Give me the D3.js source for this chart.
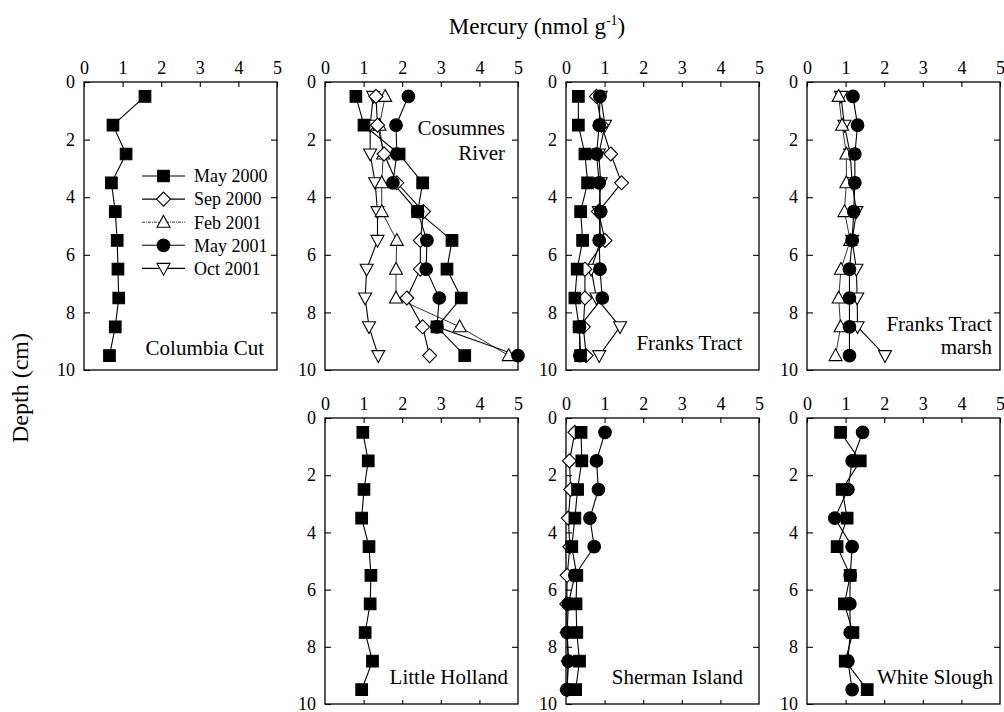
<!DOCTYPE html>
<html><head><meta charset="utf-8">
<script src="https://cdn.jsdelivr.net/npm/d3@7"></script>
<style>
body{margin:0;background:#fff;}
svg{display:block;}
svg text{font-family:"Liberation Serif","Times New Roman",serif !important;}
</style></head>
<body>
<svg id="chart" width="1004" height="712"></svg>
<script>
// ---------- data ----------
const depths = [0.5,1.5,2.5,3.5,4.5,5.5,6.5,7.5,8.5,9.5];
const seriesNames = ["May 2000","Sep 2000","Feb 2001","May 2001","Oct 2001"];
const xTicks = [0,1,2,3,4,5];
const yTicks = [0,2,4,6,8,10];

// Columbia Cut
const columbiaMay2000 = [1.58,0.75,1.09,0.71,0.81,0.86,0.88,0.90,0.81,0.66];
// Cosumnes River
const cosumnesMay2000 = [0.80,1.01,1.92,2.53,2.40,3.29,3.16,3.53,2.90,3.62];
const cosumnesSep2000 = [1.32,1.36,1.53,1.86,2.55,2.47,2.47,2.12,2.53,2.71];
const cosumnesFeb2001 = [1.56,1.41,1.51,1.47,1.47,1.86,1.84,1.84,3.49,4.76];
const cosumnesMay2001 = [2.16,1.84,1.86,1.76,2.40,2.64,2.62,2.96,2.90,5.00];
const cosumnesOct2001 = [1.25,1.17,1.17,1.30,1.36,1.36,1.08,1.04,1.14,1.38];
// Franks Tract
const franksMay2000 = [0.32,0.32,0.49,0.56,0.38,0.43,0.29,0.23,0.34,0.38];
const franksSep2000 = [0.79,0.92,1.16,1.44,0.84,1.01,0.49,0.49,0.45,0.52];
const franksMay2001 = [0.88,0.86,0.79,0.86,0.90,0.86,0.88,0.94,0.35,0.36];
const franksOct2001 = [0.90,1.01,0.85,0.90,0.85,0.90,0.65,0.79,1.40,0.86];
// Franks Tract marsh
const marshFeb2001 = [0.82,0.91,1.02,1.02,0.97,1.12,0.88,0.82,0.87,0.74];
const marshMay2001 = [1.19,1.31,1.24,1.24,1.21,1.17,1.10,1.10,1.10,1.10];
const marshOct2001 = [0.88,0.97,1.12,1.17,1.28,1.17,1.28,1.30,1.31,2.02];
// Little Holland
const hollandMay2000 = [0.98,1.12,1.01,0.95,1.14,1.19,1.17,1.04,1.23,0.95];
// Sherman Island
const shermanMay2000 = [0.39,0.41,0.30,0.23,0.15,0.28,0.26,0.28,0.35,0.25];
const shermanSep2000 = [0.23,0.09,0.12,0.06,0.10,0.03,0.02,0.03,0.06,0.03];
const shermanMay2001 = [1.01,0.79,0.84,0.62,0.73,0.23,0.06,0.03,0.06,0.02];
// White Slough
const whiteMay2000 = [0.87,1.38,0.91,1.04,0.78,1.12,0.97,1.19,0.99,1.56];
const whiteMay2001 = [1.44,1.17,1.06,0.72,1.17,1.12,1.11,1.12,1.06,1.17];

// ---------- layout ----------
const panelW = 193;
const row1 = {top:82, bottom:370};
const row2 = {top:418, bottom:704};
const colX = [84, 325, 566, 807];
const FONT = '"Liberation Serif","Times New Roman",serif';

const sites = [
  {name:["Columbia Cut"], col:0, row:row1, legend:true,
   series:{"May 2000":columbiaMay2000}, lab:{dx:13, y:[355]}},
  {name:["Cosumnes","River"], col:1, row:row1,
   series:{"Oct 2001":cosumnesOct2001,"Feb 2001":cosumnesFeb2001,"Sep 2000":cosumnesSep2000,"May 2000":cosumnesMay2000,"May 2001":cosumnesMay2001},
   lab:{dx:13, y:[135,160]}},
  {name:["Franks Tract"], col:2, row:row1,
   series:{"Oct 2001":franksOct2001,"Sep 2000":franksSep2000,"May 2000":franksMay2000,"May 2001":franksMay2001},
   lab:{dx:17, y:[350]}},
  {name:["Franks Tract","marsh"], col:3, row:row1,
   series:{"Oct 2001":marshOct2001,"Feb 2001":marshFeb2001,"May 2001":marshMay2001},
   lab:{dx:8, y:[331,354]}},
  {name:["Little Holland"], col:1, row:row2, bottomTicks:true,
   series:{"May 2000":hollandMay2000}, lab:{dx:10, y:[684]}},
  {name:["Sherman Island"], col:2, row:row2, bottomTicks:true,
   series:{"Sep 2000":shermanSep2000,"May 2000":shermanMay2000,"May 2001":shermanMay2001}, lab:{dx:16, y:[684]}},
  {name:["White Slough"], col:3, row:row2, bottomTicks:true,
   series:{"May 2000":whiteMay2000,"May 2001":whiteMay2001}, lab:{dx:7, y:[684]}}
];

// ---------- marker shapes ----------
function markerPath(name){
  switch(name){
    case "May 2000": return "M-5.8,-5.8H5.8V5.8H-5.8Z";
    case "Sep 2000": return "M0,-7L7,0L0,7L-7,0Z";
    case "Feb 2001": return "M0,-6.8L6.5,5L-6.5,5Z";
    case "May 2001": return d3.symbol(d3.symbolCircle, Math.PI*6.3*6.3)();
    case "Oct 2001": return "M0,6.8L6.5,-5L-6.5,-5Z";
  }
}
const filled = {"May 2000":true,"Sep 2000":false,"Feb 2001":false,"May 2001":true,"Oct 2001":false};

const svg = d3.select("#chart");

sites.forEach(site => {
  const x0 = colX[site.col];
  const x = d3.scaleLinear().domain([0,5]).range([x0, x0+panelW]);
  const y = d3.scaleLinear().domain([0,10]).range([site.row.top, site.row.bottom]);
  const g = svg.append("g");

  const ax = g.append("g").attr("transform",`translate(0,${site.row.top})`)
    .call(d3.axisTop(x).tickValues(xTicks).tickSizeInner(-5).tickSizeOuter(0).tickPadding(8).tickFormat(d3.format("d")));
  const ay = g.append("g").attr("transform",`translate(${x0},0)`)
    .call(d3.axisLeft(y).tickValues(yTicks).tickSizeInner(-6).tickSizeOuter(0).tickPadding(9).tickFormat(d3.format("d")));
  const ar = g.append("g").attr("transform",`translate(${x0+panelW},0)`)
    .call(d3.axisRight(y).tickValues([2,4,6,8]).tickSizeInner(-6).tickSizeOuter(0).tickFormat(""));
  const axes = [ax,ay,ar];
  if (site.bottomTicks){
    axes.push(g.append("g").attr("transform",`translate(0,${site.row.bottom})`)
      .call(d3.axisBottom(x).tickValues([1,2,3,4]).tickSizeInner(-4).tickSizeOuter(0).tickFormat("")));
  }
  axes.forEach(a=>{
    a.attr("font-family", FONT).attr("font-size", 18);
    a.select(".domain").remove();
    a.selectAll("text").style("font-family", FONT).style("font-size","18px").attr("fill","#000");
    a.selectAll("line").attr("stroke","#000").attr("stroke-width",1.1);
  });

  g.append("rect").attr("x",x0).attr("y",site.row.top).attr("width",panelW)
    .attr("height",site.row.bottom-site.row.top).attr("fill","none").attr("stroke","#000").attr("stroke-width",1.3);

  const line = d3.line().x(d=>x(d[0])).y(d=>y(d[1]));
  const entries = Object.entries(site.series);
  entries.forEach(([nm, vals])=>{
    const pts = vals.map((v,i)=>[v, depths[i]]);
    g.append("path").attr("d",line(pts)).attr("fill","none").attr("stroke","#000")
      .attr("stroke-width", nm==="Feb 2001"?0.8:1.1);
  });
  entries.forEach(([nm, vals])=>{
    g.selectAll(null).data(vals.map((v,i)=>[v,depths[i]])).enter().append("path")
      .attr("d", markerPath(nm))
      .attr("transform", d=>`translate(${x(d[0])},${y(d[1])})`)
      .attr("fill", filled[nm] ? "#000" : "#fff")
      .attr("stroke","#000").attr("stroke-width",1.1);
  });

  site.name.forEach((t,i)=>{
    g.append("text").attr("x", x0+panelW-site.lab.dx).attr("y", site.lab.y[i])
      .attr("text-anchor","end").style("font-family",FONT).style("font-size","21px").text(t);
  });

  if (site.legend){
    const lg = g.append("g");
    seriesNames.forEach((nm,i)=>{
      const ly = 176 + i*23.1;
      lg.append("line").attr("x1",142).attr("x2",185).attr("y1",ly).attr("y2",ly)
        .attr("stroke","#000").attr("stroke-width", nm==="Feb 2001"?0.8:1.1)
        .attr("stroke-dasharray", nm==="Feb 2001" ? "3,1,1,1" : null);
      lg.append("path").attr("d", markerPath(nm)).attr("transform",`translate(163.5,${ly})`)
        .attr("fill", filled[nm] ? "#000" : "#fff").attr("stroke","#000").attr("stroke-width",1.1);
      lg.append("text").attr("x",194).attr("y",ly).attr("dy","0.35em")
        .style("font-family",FONT).style("font-size","18px").text(nm);
    });
  }
});

const title = svg.append("text").attr("x",537).attr("y",34).attr("text-anchor","middle")
  .style("font-family",FONT).style("font-size","23px");
title.append("tspan").text("Mercury (nmol g");
title.append("tspan").style("font-size","14px").attr("dy",-9).text("-1");
title.append("tspan").attr("dy",9).text(")");

svg.append("text").attr("transform","translate(28,388) rotate(-90)").attr("text-anchor","middle")
  .style("font-family",FONT).style("font-size","24px").text("Depth (cm)");
</script>
</body></html>
